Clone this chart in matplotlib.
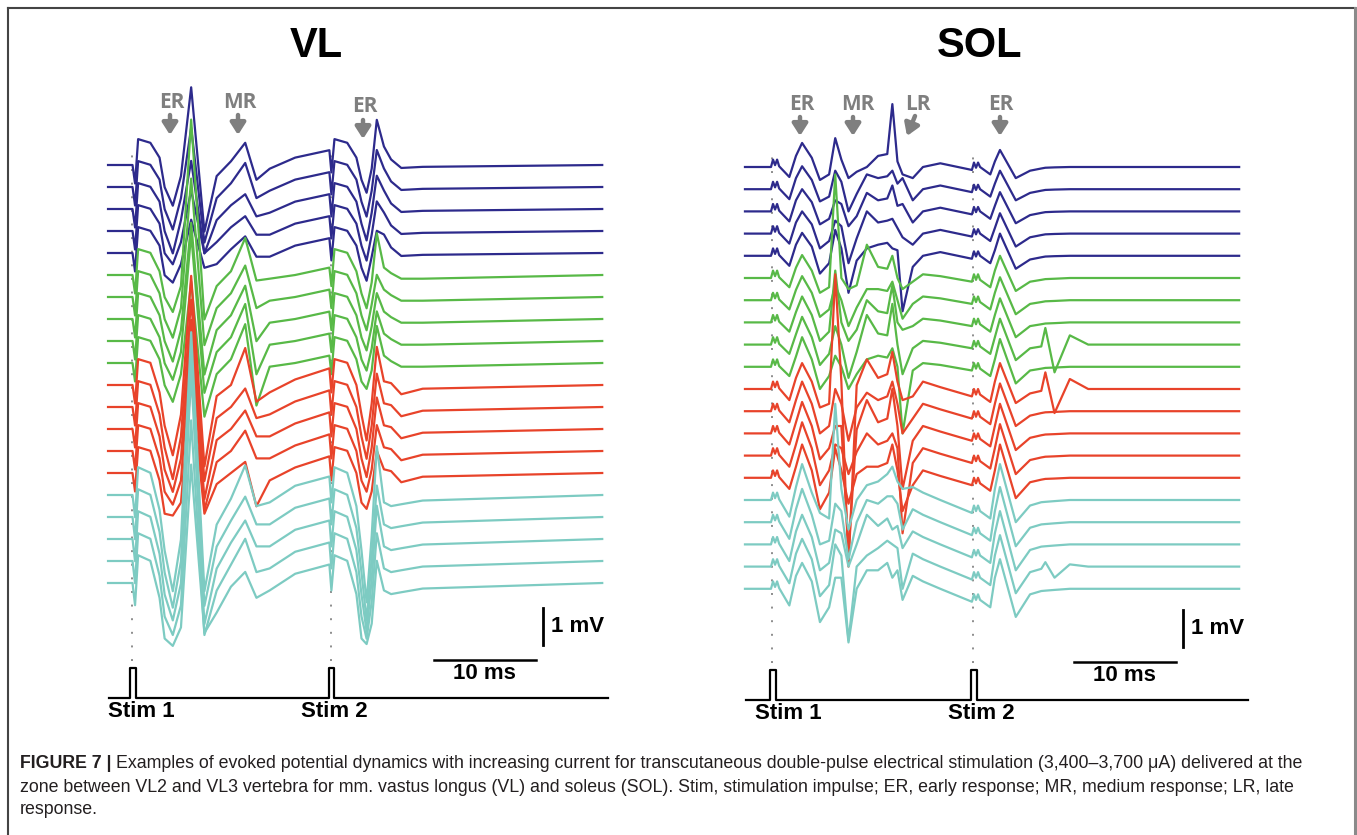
import matplotlib

matplotlib.use("Agg")
import matplotlib.pyplot as plt
import numpy as np
from matplotlib.lines import Line2D

plt.rcParams["font.family"] = ["Liberation Sans", "DejaVu Sans"]

F = np.nan  # filled per trace from the feature lists below

# ---------------- VL panel (time in ms after Stim 1, amplitude in mV) ----------------
vl_knots = [-2.35, 0.05, 0.3, 0.6, 1.8, 2.7, 3.2, 4.0, 4.8, 5.8, 7.1, 8.3, 9.7, 11.1,
            12.2, 13.5, 16.0, 19.35, 19.55, 19.85, 21.1, 22.0, 22.5, 23.0, 23.5, 24.0,
            24.7, 25.4, 26.4, 28.5, 46.1]
vl_blue = [0, 0, -0.5, 0.7, 0.6, 0.2, -0.6, F, -0.3, F, F, -0.3, 0.1, F,
           F, -0.1, 0.2, 0.4, -0.2, 0.7, 0.6, 0.2, -0.4, F, -0.1, F,
           0.5, 0.15, -0.08, -0.05, 0]
vl_green = [0, 0, -0.5, 0.7, 0.6, 0.1, -0.6, F, -0.3, F, F, -0.3, 0.1, F,
            F, -0.1, 0.0, 0.2, -0.3, 0.7, 0.6, 0.1, -0.5, F, -0.2, F,
            0.2, 0.05, -0.1, -0.1, 0]
vl_red = [0, 0, -0.5, 0.7, 0.6, -0.2, -1.1, F, -0.8, F, F, -0.3, 0.0, F,
          F, -0.2, 0.15, 0.45, -0.2, 0.7, 0.6, 0.0, -0.8, F, -0.5, F,
          0.1, 0.05, -0.25, -0.1, 0]
vl_teal = [0, 0, -0.6, 0.75, 0.6, -0.4, -1.5, F, -1.2, F, F, -0.8, -0.1, F,
           F, -0.2, 0.25, 0.5, -0.2, 0.75, 0.6, -0.3, -1.5, F, -1.1, F,
           -0.2, -0.3, -0.25, -0.15, 0]

# per trace, top to bottom: 5 blue, 5 green, 5 red, 5 teal
vl_er_trough = [-1.1, -1.15, -1.2, -0.9, -0.8, -1.0, -1.1, -1.15, -1.05, -1.05,
                -1.9, -1.95, -1.7, -1.45, -1.15, -2.6, -2.45, -2.2, -2.0, -1.7]
vl_er_peak = [2.1, 1.6, 1.3, 1.1, 0.9, 4.2, 3.2, 2.6, 2.9, 2.2,
              2.95, 2.9, 2.95, 3.0, 2.5, 4.4, 4.5, 4.5, 3.8, 3.2]
vl_er_after = [-1.8, -1.5, -1.2, -0.6, -0.4, -1.2, -1.3, -1.5, -1.4, -1.45,
               -2.2, -2.0, -1.9, -1.6, -1.1, -2.6, -2.4, -2.3, -2.0, -1.35]
vl_mr_peak = [0.6, 0.65, 0.4, 0.4, 0.45, 1.0, 0.85, 0.9, 1.0, 1.05,
              1.0, 0.5, 0.5, 0.55, 0.3, 0.8, 0.55, 0.5, 0.6, 0.3]
vl_mr_dip = [-0.4, -0.3, -0.2, -0.1, -0.1, -0.15, -0.3, -0.6, -0.9, -1.15,
             -0.45, -0.3, -0.2, -0.2, -0.9, -0.3, -0.2, -0.2, -0.3, -0.4]
vl_er2_trough = [-0.75, -0.8, -0.85, -0.8, -0.75, -0.9, -0.9, -0.85, -0.8, -0.7,
                 -1.5, -1.4, -1.3, -1.1, -0.97, -2.9, -2.8, -2.5, -2.1, -1.65]
vl_er2_peak = [1.22, 1.0, 0.9, 0.8, 0.6, 1.13, 0.6, 0.7, 0.8, 1.0,
               1.03, 0.9, 0.85, 0.7, 0.6, 1.32, 0.85, 0.9, 0.75, 0.6]
vl_stim_times = [0.0, 19.5]

# ---------------- SOL panel ----------------
sol_knots = [-2.65, -0.1, 0.1, 0.3, 0.5, 0.7, 1.7, 2.35, 2.95, 3.9, 4.7, 5.6, 6.2,
             6.8, 7.5, 8.3, 9.3, 10.4, 11.3, 11.8, 12.3, 12.8, 13.8, 14.8, 16.5,
             19.6, 19.8, 20.0, 20.2, 20.4, 21.4, 21.85, 22.35, 23.9, 25.3, 26.4,
             26.8, 27.7, 29.2, 31.0, 45.8]
sol_blue = [0, 0, 0.2, 0.05, 0.2, 0.02, -0.27, 0.3, F, 0.25, F, -0.2, F,
            0.2, F, -0.13, F, 0.3, 0.35, F, 0.15, F, -0.3, 0.0, 0.1,
            -0.08, 0.12, -0.02, 0.12, 0.0, -0.2, 0.15, F, F, -0.1, -0.04,
            F, F, F, 0.0, 0.0]
sol_green = [0, 0, 0.2, 0.05, 0.2, 0.02, -0.25, 0.28, F, 0.2, F, -0.25, F,
             0.0, F, -0.2, F, 0.3, 0.25, F, 0.0, F, -0.1, 0.1, 0.05,
             -0.1, 0.1, -0.05, 0.1, -0.05, -0.25, 0.2, F, F, -0.1, -0.05,
             F, F, F, 0.0, 0.0]
sol_red = [0, 0, 0.2, 0.05, 0.2, 0.02, -0.3, 0.3, F, 0.2, F, -0.4, F,
           0.2, F, 0.1, F, 0.3, 0.4, F, 0.2, F, -0.2, 0.2, 0.05,
           -0.2, 0.0, -0.15, 0.0, -0.15, -0.35, 0.2, F, F, -0.12, -0.05,
           F, F, F, 0.0, 0.0]
sol_teal = [0, 0, 0.2, 0.05, 0.2, 0.02, -0.45, 0.35, F, 0.2, F, -0.5, F,
            0.3, F, 0.0, F, 0.5, 0.7, F, 0.5, F, 0.35, 0.2, 0.0,
            -0.35, -0.15, -0.3, -0.15, -0.3, -0.5, 0.3, F, F, -0.15, -0.06,
            F, F, F, 0.0, 0.0]

sol_er_peak = [0.65, 0.62, 0.6, 0.6, 0.62, 0.62, 0.65, 0.7, 0.75, 0.8,
               0.7, 0.8, 0.85, 0.9, 0.9, 0.97, 0.9, 0.8, 0.75, 0.7]
sol_er_trough = [-0.35, -0.33, -0.35, -0.4, -0.48, -0.4, -0.45, -0.5, -0.55, -0.6,
                 -0.5, -0.6, -0.7, -0.8, -0.85, -0.35, -0.6, -0.7, -0.8, -0.9]
sol_mr_up = [0.78, 0.5, 0.3, 0.35, 0.7, 2.8, 0.4, 1.4, 0.5, 0.3,
             3.1, 0.6, 0.2, 0.3, 0.8, 2.6, 0.5, 0.4, 0.6, 0.3]
sol_mr_down = [-0.3, -0.6, -0.4, -0.8, -1.0, -0.3, -0.7, -0.5, -0.9, -0.6,
               -4.8, -0.8, -3.2, -0.5, -0.7, -0.8, -1.0, -0.6, -2.0, -1.45]
sol_mid = [0.0, 0.4, 0.5, 0.6, 0.2, 0.9, 0.3, 0.6, 0.8, 0.2,
           0.8, 0.5, 0.9, 0.6, 0.3, 0.4, 0.6, 0.8, 0.3, 0.5]
sol_lr_up = [1.7, 0.5, 0.7, 0.4, 0.2, 0.6, 0.5, 1.0, 1.1, 0.5,
             1.0, 0.8, 1.2, 0.6, 0.9, 0.9, 0.7, 0.4, 0.6, 0.3]
sol_lr_down = [-0.2, 0.3, 0.2, -0.1, -1.5, -0.3, -0.5, -0.2, -0.8, -1.8,
               -0.3, -0.6, -1.5, -2.1, -0.9, 0.3, -0.2, -0.1, -0.6, -0.3]
sol_er2_peak = [0.46, 0.5, 0.52, 0.55, 0.6, 0.6, 0.62, 0.65, 0.7, 0.75,
                0.7, 0.75, 0.8, 0.85, 0.9, 0.97, 0.95, 0.9, 0.85, 0.8]
sol_er2_trough = [-0.3, -0.3, -0.32, -0.35, -0.35, -0.35, -0.38, -0.4, -0.42, -0.45,
                  -0.38, -0.4, -0.45, -0.5, -0.55, -0.6, -0.65, -0.7, -0.72, -0.76]
sol_late_up = [-0.02, -0.02, -0.02, -0.02, -0.02, -0.03, -0.03, -0.03, 0.45, -0.03,
               0.45, -0.03, -0.03, -0.03, -0.03, -0.05, -0.05, -0.05, 0.12, -0.05]
sol_late_dn = [-0.01, -0.01, -0.01, -0.01, -0.01, -0.02, -0.02, -0.02, -0.75, -0.02,
               -0.65, -0.02, -0.02, -0.02, -0.02, -0.03, -0.03, -0.03, -0.3, -0.03]
sol_late_rb = [0, 0, 0, 0, 0, 0, 0, 0, 0.25, 0,
               0.27, 0, 0, 0, 0, 0, 0, 0, 0.06, 0]
sol_stim_times = [0.0, 19.7]

GROUP_COLORS = ["#2d2a8c", "#58b947", "#e8432a", "#7dcbc2"]
GROUP_Z = [2, 3, 4, 5]
LABEL_GRAY = "#7f7f7f"
W, H = 1357, 835

fig = plt.figure(figsize=(W / 100, H / 100), dpi=100)


def px_axes(x0, x1, y0, y1, top_px):
    ax = fig.add_axes([x0 / W, 1 - y1 / H, (x1 - x0) / W, (y1 - y0) / H])
    ax.set_xlim((x0 - top_px[0]) / 10.2, (x1 - top_px[0]) / 10.2)
    ax.set_ylim((top_px[1] - y1) / 37, (top_px[1] - y0) / 37)
    ax.set_axis_off()
    return ax


def draw_panel(ax, knots, shapes, features, step, stim_times, t_end):
    for g, shape in enumerate(shapes):
        for k in range(5):
            i = g * 5 + k
            values = np.array(shape, dtype=float)
            for idx, per_trace in features.items():
                values[idx] = per_trace[i]
            ax.plot(knots, values - i * step, color=GROUP_COLORS[g], lw=1.6,
                    zorder=GROUP_Z[g], solid_joinstyle="round")

    ax.vlines(stim_times, -13.4, 0.4, colors="#8c8c8c", linestyles=(0, (1, 6)),
              lw=1.4, zorder=1)

    st, sv = [knots[0] + 0.1], [0]
    for s in stim_times:
        st += [s - 0.2, s - 0.2, s + 0.35, s + 0.35]
        sv += [0, 1, 1, 0]
    st.append(t_end)
    sv.append(0)
    ax.plot(st, -14.4 + 0.8 * np.array(sv), color="black", lw=1.6)

    # scale bars
    ax.plot([40.3, 40.3], [-12.97, -11.97], color="black", lw=2.0)
    ax.plot([29.6, 39.6], [-13.38, -13.38], color="black", lw=1.8)
    ax.text(41.1, -12.47, "1 mV", fontsize=16, fontweight="bold", ha="left", va="center")
    ax.text(34.6, -13.75, "10 ms", fontsize=16, fontweight="bold", ha="center", va="center")


def fig_xy(x, y):
    return x / W, 1 - y / H


ax_vl = px_axes(100, 620, 80, 740, (132, 165))
draw_panel(ax_vl, vl_knots, [vl_blue, vl_green, vl_red, vl_teal],
           {7: vl_er_trough, 9: vl_er_peak, 10: vl_er_after, 13: vl_mr_peak,
            14: vl_mr_dip, 23: vl_er2_trough, 25: vl_er2_peak},
           22 / 37, vl_stim_times, 46.7)
ax_vl.text(-2.35, -14.77, "Stim 1", fontsize=16, fontweight="bold", ha="left", va="center")
ax_vl.text(16.6, -14.77, "Stim 2", fontsize=16, fontweight="bold", ha="left", va="center")

ax_sol = px_axes(740, 1260, 80, 740, (772, 167))
draw_panel(ax_sol, sol_knots, [sol_blue, sol_green, sol_red, sol_teal],
           {8: sol_er_peak, 10: sol_er_trough, 12: sol_mr_up, 14: sol_mr_down,
            16: sol_mid, 19: sol_lr_up, 21: sol_lr_down, 32: sol_er2_peak,
            33: sol_er2_trough, 36: sol_late_up, 37: sol_late_dn, 38: sol_late_rb},
           22.2 / 37, sol_stim_times, 46.7)
ax_sol.text(-1.65, -14.77, "Stim 1", fontsize=16, fontweight="bold", ha="left", va="center")
ax_sol.text(17.25, -14.77, "Stim 2", fontsize=16, fontweight="bold", ha="left", va="center")

# titles
fig.text(*fig_xy(316, 46), "VL", fontsize=30, fontweight="bold", ha="center", va="center")
fig.text(*fig_xy(980, 46), "SOL", fontsize=30, fontweight="bold", ha="center", va="center")

# response labels with arrows
labels = [("ER", 172, 102, (170, 115), (170, 135)),
          ("MR", 240, 102, (238, 115), (238, 135)),
          ("ER", 365, 106, (363, 120), (363, 139)),
          ("ER", 802, 104, (800, 117), (800, 136)),
          ("MR", 858, 104, (853, 117), (853, 136)),
          ("LR", 918, 104, (915, 116), (907, 136)),
          ("ER", 1001, 104, (1000, 117), (1000, 136))]
for text, lx, ly, a0, a1 in labels:
    fig.text(*fig_xy(lx, ly), text, fontsize=15, fontweight="bold", color=LABEL_GRAY,
             ha="center", va="center", family=["Open Sans", "DejaVu Sans"])
    ax_vl.annotate("", xy=fig_xy(*a1), xytext=fig_xy(*a0), xycoords="figure fraction",
                   textcoords="figure fraction",
                   arrowprops=dict(arrowstyle="-|>,head_length=0.5,head_width=0.32",
                                   color=LABEL_GRAY, lw=3.2, shrinkA=0, shrinkB=0,
                                   mutation_scale=14))

# frame
fig.add_artist(Line2D([8 / W, 8 / W], [0, 1 - 8 / H], color="#444444", lw=1.5))
fig.add_artist(Line2D([8 / W, 1355 / W], [1 - 8 / H, 1 - 8 / H], color="#444444", lw=1.5))
fig.add_artist(Line2D([1355 / W, 1355 / W], [0, 1 - 8 / H], color="#8a8a8a", lw=2.2))

# caption
cap_color = "#231f20"
cap_size = 12.8
renderer = fig.canvas.get_renderer()
head = fig.text(*fig_xy(20, 764), "FIGURE 7 |", fontsize=cap_size, fontweight="bold",
                color=cap_color, va="center", ha="left")
hx = head.get_window_extent(renderer).x1
fig.text(hx / W + 4 / W, 1 - 764 / H,
         "Examples of evoked potential dynamics with increasing current for transcutaneous "
         "double-pulse electrical stimulation (3,400\u20133,700 \u03bcA) delivered at the",
         fontsize=cap_size, color=cap_color, va="center", ha="left")
fig.text(*fig_xy(20, 787),
         "zone between VL2 and VL3 vertebra for mm. vastus longus (VL) and soleus (SOL). "
         "Stim, stimulation impulse; ER, early response; MR, medium response; LR, late",
         fontsize=cap_size, color=cap_color, va="center", ha="left")
fig.text(*fig_xy(20, 810), "response.", fontsize=cap_size, color=cap_color,
         va="center", ha="left")

fig.savefig("out.png", dpi=100)
